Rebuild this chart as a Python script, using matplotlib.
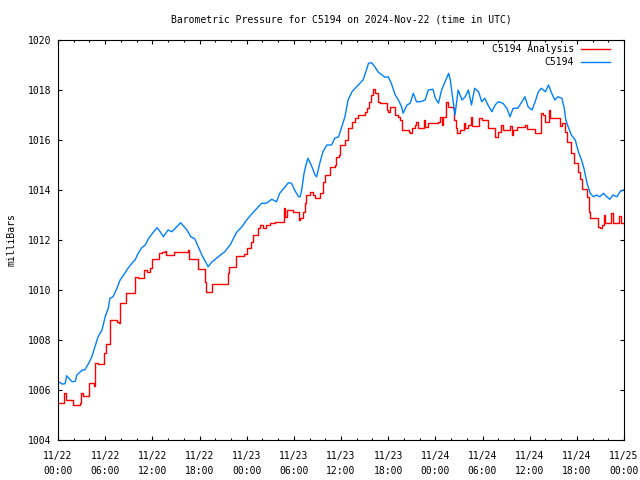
import matplotlib
matplotlib.use("Agg")
import matplotlib.pyplot as plt
import numpy as np

# hours since 2024-11-22 00:00 UTC, pressure in millibars
obs_hours = [0.0, 0.5, 0.9, 1.1, 1.8, 2.2, 2.4, 3.1, 3.4, 3.9, 4.3, 4.7, 5.1, 5.6, 6.0, 6.4, 6.6, 7.0,
             7.5, 7.9, 8.5, 8.9, 9.4, 9.8, 10.2, 10.6, 11.1, 11.5, 12.1, 12.6, 13.0, 13.4, 14.0, 14.5,
             15.1, 15.6, 16.4, 16.9, 17.4, 18.3, 19.1, 19.6, 20.4, 21.2, 21.9, 22.7, 23.4, 24.0, 24.8,
             25.5, 25.9, 26.5, 27.2, 27.8, 28.2, 28.9, 29.3, 29.7, 30.1, 30.6, 30.8, 31.0, 31.3, 31.6,
             31.8, 32.3, 32.7, 32.9, 33.3, 33.7, 34.2, 34.8, 35.2, 35.7, 36.1, 36.5, 36.9, 37.4, 37.8,
             38.4, 38.8, 39.1, 39.5, 39.9, 40.3, 40.7, 41.2, 41.6, 42.0, 42.4, 42.9, 43.3, 43.7, 43.9,
             44.4, 44.8, 45.2, 45.6, 46.1, 46.7, 47.1, 47.7, 48.0, 48.4, 48.8, 49.2, 49.7, 49.9, 50.3,
             50.5, 50.9, 51.4, 51.8, 52.2, 52.6, 53.0, 53.5, 53.9, 54.3, 54.7, 55.2, 55.6, 56.0, 56.6,
             57.1, 57.5, 57.9, 58.5, 59.0, 59.4, 59.8, 60.3, 60.7, 61.1, 61.5, 62.0, 62.4, 62.8, 63.2,
             63.6, 64.1, 64.4, 64.6, 64.9, 65.3, 65.8, 66.2, 66.6, 66.9, 67.3, 67.7, 68.1, 68.5, 68.9,
             69.4, 69.8, 70.2, 70.6, 71.1, 71.5, 71.9]
obs_mb = [1006.35, 1006.24, 1006.25, 1006.57, 1006.33, 1006.35, 1006.6, 1006.8, 1006.8, 1007.07,
          1007.33, 1007.73, 1008.13, 1008.4, 1008.93, 1009.27, 1009.67, 1009.73, 1010.07, 1010.4,
          1010.67, 1010.87, 1011.07, 1011.2, 1011.47, 1011.67, 1011.8, 1012.05, 1012.3, 1012.49,
          1012.33, 1012.13, 1012.4, 1012.33, 1012.53, 1012.69, 1012.4, 1012.13, 1012.05, 1011.4,
          1010.93, 1011.13, 1011.33, 1011.53, 1011.8, 1012.3, 1012.53, 1012.8, 1013.1, 1013.33,
          1013.47, 1013.47, 1013.63, 1013.53, 1013.87, 1014.13, 1014.29, 1014.27, 1014.0, 1013.73,
          1013.73, 1014.0, 1014.67, 1015.07, 1015.27, 1014.93, 1014.6, 1014.53, 1015.07, 1015.53,
          1015.8, 1015.8, 1016.07, 1016.13, 1016.53, 1016.93, 1017.6, 1017.93, 1018.07, 1018.27,
          1018.4, 1018.67, 1019.07, 1019.09, 1018.93, 1018.73, 1018.6, 1018.51, 1018.53, 1018.27,
          1017.8, 1017.6, 1017.33, 1017.07, 1017.4, 1017.47, 1017.87, 1017.53, 1017.53, 1017.6,
          1018.0, 1018.03, 1017.67, 1017.47, 1018.0, 1018.3, 1018.67, 1018.4, 1017.47, 1017.0,
          1018.0, 1017.6, 1017.73, 1018.0, 1017.4, 1018.07, 1017.93, 1017.53, 1017.67, 1017.4,
          1017.13, 1017.4, 1017.53, 1017.47, 1017.27, 1016.93, 1017.27, 1017.27, 1017.53, 1017.73,
          1017.33, 1017.2, 1017.53, 1017.93, 1018.07, 1017.93, 1018.2, 1017.87, 1017.6, 1017.73,
          1017.67, 1017.27, 1016.8, 1016.53, 1016.2, 1016.0, 1015.53, 1015.2, 1014.87, 1014.27,
          1013.87, 1013.73, 1013.8, 1013.73, 1013.87, 1013.73, 1013.63, 1013.8, 1013.73, 1013.93,
          1014.0]

ana_hours = [0.0, 0.8, 1.0, 1.9, 2.8, 2.9, 3.2, 3.9, 4.6, 4.7, 5.1, 5.8, 6.1, 6.6, 7.5, 7.7, 7.9, 8.7,
             9.8, 10.2, 10.9, 11.3, 11.7, 11.9, 12.8, 13.2, 13.6, 13.8, 14.8, 16.6, 16.7, 17.8, 18.7,
             18.8, 19.6, 21.6, 21.8, 22.7, 23.6, 24.0, 24.6, 24.8, 25.5, 25.7, 26.1, 26.5, 27.0, 27.6,
             28.7, 28.9, 29.1, 29.9, 30.6, 30.8, 31.2, 31.4, 31.6, 32.1, 32.5, 32.7, 33.3, 33.7, 34.0,
             34.6, 35.2, 35.4, 35.7, 35.9, 36.5, 36.9, 37.4, 37.8, 38.2, 39.1, 39.3, 39.5, 39.8, 40.1,
             40.3, 40.7, 40.9, 41.8, 42.0, 42.2, 42.9, 43.3, 43.5, 43.7, 44.6, 44.8, 45.0, 45.4, 45.6,
             45.8, 46.5, 46.7, 47.1, 48.4, 48.6, 48.8, 49.0, 49.4, 49.6, 50.2, 50.4, 50.6, 50.7, 51.1,
             51.6, 51.8, 52.2, 52.5, 52.7, 53.5, 53.9, 54.7, 55.6, 56.0, 56.4, 56.6, 57.5, 57.7, 57.9,
             58.4, 59.4, 59.6, 60.7, 61.4, 61.7, 62.0, 62.4, 62.6, 63.5, 63.8, 64.1, 64.5, 64.7, 65.3,
             65.6, 66.2, 66.4, 66.6, 67.3, 67.5, 67.7, 68.7, 68.9, 69.2, 69.4, 69.6, 70.4, 70.6, 71.4,
             71.6, 71.9]
ana_mb = [1005.47, 1005.87, 1005.6, 1005.4, 1005.49, 1005.87, 1005.76, 1006.27, 1006.16, 1007.07,
          1007.03, 1007.47, 1007.84, 1008.8, 1008.73, 1008.67, 1009.49, 1009.87, 1010.53, 1010.47,
          1010.8, 1010.73, 1010.87, 1011.23, 1011.47, 1011.53, 1011.57, 1011.4, 1011.51, 1011.6,
          1011.23, 1010.83, 1010.33, 1009.93, 1010.24, 1010.67, 1010.91, 1011.36, 1011.44, 1011.67,
          1011.93, 1012.2, 1012.47, 1012.6, 1012.47, 1012.6, 1012.67, 1012.73, 1013.27, 1012.93,
          1013.2, 1013.13, 1012.8, 1012.87, 1013.13, 1013.47, 1013.8, 1013.93, 1013.8, 1013.67,
          1013.87, 1014.33, 1014.6, 1014.93, 1015.0, 1015.33, 1015.4, 1015.8, 1016.0, 1016.47,
          1016.73, 1016.87, 1017.0, 1017.13, 1017.27, 1017.53, 1017.8, 1018.03, 1017.87, 1017.53,
          1017.47, 1017.2, 1017.13, 1017.33, 1017.0, 1016.93, 1016.8, 1016.4, 1016.33, 1016.27,
          1016.47, 1016.6, 1016.73, 1016.47, 1016.8, 1016.53, 1016.67, 1016.73, 1016.93, 1016.6,
          1016.93, 1017.53, 1017.33, 1017.27, 1016.8, 1016.47, 1016.27, 1016.4, 1016.67, 1016.47,
          1016.6, 1016.93, 1016.56, 1016.87, 1016.8, 1016.47, 1016.13, 1016.33, 1016.6, 1016.4,
          1016.56, 1016.2, 1016.4, 1016.51, 1016.6, 1016.43, 1016.27, 1017.09, 1017.0, 1016.73,
          1017.2, 1016.87, 1016.9, 1016.56, 1016.67, 1016.33, 1015.93, 1015.47, 1015.09, 1014.73,
          1014.43, 1014.03, 1013.73, 1013.13, 1012.87, 1012.53, 1012.47, 1012.6, 1013.0, 1012.69,
          1013.09, 1012.69, 1012.96, 1012.67, 1012.67]

tick_hours = list(range(0, 73, 6))
tick_labels = ["11/22\n00:00", "11/22\n06:00", "11/22\n12:00", "11/22\n18:00",
               "11/23\n00:00", "11/23\n06:00", "11/23\n12:00", "11/23\n18:00",
               "11/24\n00:00", "11/24\n06:00", "11/24\n12:00", "11/24\n18:00",
               "11/25\n00:00"]

plt.rcParams["font.family"] = ["DejaVu Sans Mono"]
plt.rcParams["font.size"] = 7

fig = plt.figure(figsize=(6.4, 4.8), dpi=100)
ax = fig.add_axes([58 / 640, 40 / 480, 566 / 640, 400 / 480])

ax.plot(ana_hours, ana_mb, color="#ff0000", lw=1.0, drawstyle="steps-post", label="C5194 Analysis")
ax.plot(obs_hours, obs_mb, color="#0080ff", lw=1.0, label="C5194")

ax.set_xlim(0, 72)
ax.set_ylim(1004, 1020)
ax.set_xticks(tick_hours)
ax.set_xticklabels(tick_labels, linespacing=1.65)
ax.set_xticks(np.arange(0, 73, 2), minor=True)
ax.set_yticks(np.arange(1004, 1021, 2))

ax.tick_params(which="both", direction="in", top=True, right=True, width=0.8)
ax.tick_params(which="major", length=3.2)
ax.tick_params(axis="y", pad=5)
ax.tick_params(axis="x", pad=8)
ax.tick_params(which="minor", length=1.6)
for s in ax.spines.values():
    s.set_linewidth(0.8)

ax.set_ylabel("milliBars", labelpad=8)
fig.text(341 / 640, 1 - 20 / 480, "Barometric Pressure for C5194 on 2024-Nov-22 (time in UTC)",
         ha="center", va="center")

ax.legend(loc="upper right", bbox_to_anchor=((610 - 58) / 566, (440 - 44) / 400),
          frameon=False, markerfirst=False, handlelength=3.0, borderpad=0,
          borderaxespad=0, labelspacing=0.35, handletextpad=0.7)

fig.savefig("out.png", dpi=100)
